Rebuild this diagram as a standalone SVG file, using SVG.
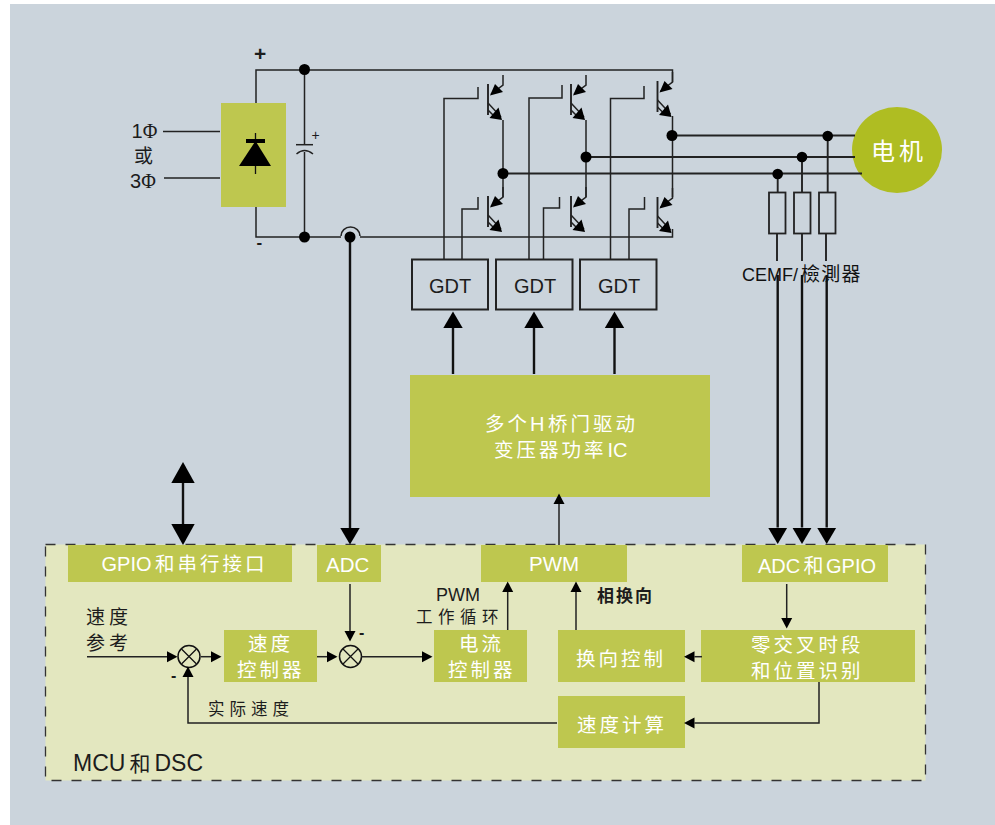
<svg xmlns="http://www.w3.org/2000/svg" width="995" height="825" viewBox="0 0 995 825">
<style>
text{font-family:"Liberation Sans","Noto Sans CJK SC",sans-serif}
.box{fill:#bec74f}
.w{fill:#fff;font-size:19.5px;letter-spacing:3px}
.l{fill:#fff;font-size:20.5px;letter-spacing:0}
.d{fill:#1c1c1c;font-size:17px;letter-spacing:4.5px}
.g{fill:#1c1c1c;font-size:20px}
.ln{fill:none;stroke:#222;stroke-width:1.5}
.ph{fill:none;stroke:#222;stroke-width:1.9}
.th{fill:none;stroke:#111;stroke-width:2.4}
.gdt{fill:none;stroke:#222;stroke-width:2}
.dot{fill:#000}
.sw{fill:none;stroke:#111;stroke-width:1.3}
</style>
<defs>
<marker id="s" markerUnits="userSpaceOnUse" markerWidth="11" markerHeight="12" refX="0" refY="6" orient="auto"><path d="M0,0.5L10.500,6L0,11.500Z" fill="#000"/></marker>
<marker id="b" markerUnits="userSpaceOnUse" markerWidth="18" markerHeight="22" refX="0" refY="11" orient="auto"><path d="M0,1.300L16.500,11L0,20.700Z" fill="#000"/></marker>
<marker id="x" markerUnits="userSpaceOnUse" markerWidth="22" markerHeight="26" refX="0" refY="13" orient="auto"><path d="M0,1.300L21,13L0,24.700Z" fill="#000"/></marker>
<g id="igbt">
<path d="M0,0V31" class="ph"/>
<path d="M15,-9V1L3,10M0,19L13,33M0,26L5,31" class="ln"/>
<path d="M2,11.500L7,0L15,8ZM14,36L1.500,34L10.500,23.500Z" fill="#000"/>
</g>
<g id="sum"><circle r="11" fill="none" stroke="#111" stroke-width="1.500"/><path d="M-7.500,-7.500L7.500,7.500M-7.500,7.500L7.500,-7.500" class="sw"/></g>
</defs>
<rect x="10" y="4" width="985" height="821" fill="#cbd4dc"/>
<rect id="mcu" x="45.500" y="544.500" width="880" height="236" fill="#e3e7bf" stroke="#333" stroke-width="1.300" stroke-dasharray="10 10"/>

<g id="rectifier">
<rect class="box" x="221" y="103" width="65" height="104"/>
<path d="M255.500,133V174" stroke="#111" stroke-width="1.300"/>
<rect x="246" y="139" width="19" height="4" fill="#000"/>
<path d="M255.500,141L271,166H239Z" fill="#000"/>
</g>
<g id="input-labels">
<text x="131.500" y="138" class="g">1<tspan style="font-family:'Liberation Serif',serif">Φ</tspan></text>
<text x="134" y="163" class="g" style="font-size:19px">或</text>
<text x="130" y="188" class="g">3<tspan style="font-family:'Liberation Serif',serif">Φ</tspan></text>
<text x="254" y="61" class="g" style="font-size:21px;font-weight:bold">+</text>
<text x="256.500" y="248" class="g" style="font-size:17px;font-weight:bold">-</text>
<text x="311.500" y="140" class="g" style="font-size:14px">+</text>
</g>

<g id="motor"><ellipse cx="897" cy="150" rx="45" ry="43" fill="#afbd22"/><text x="871" y="160" style="font-size:24px;letter-spacing:4px" fill="#fff">电机</text></g>
<g id="sensors" fill="none" stroke="#222" stroke-width="1.800">
<rect x="769" y="192.500" width="16.500" height="41"/><rect x="794" y="192.500" width="16.500" height="41"/><rect x="819" y="192.500" width="16.500" height="41"/>
</g>
<text id="cemf" x="742" y="281" style="font-size:18px;font-family:'Liberation Sans','Noto Sans CJK TC',sans-serif" fill="#111">CEMF/<tspan x="801" style="font-size:19px;letter-spacing:1.300px">檢測器</tspan></text>

<g id="gdt1"><rect class="gdt" x="412" y="259.500" width="76" height="50"/><text class="g" x="429" y="293">GDT</text></g>
<g id="gdt2"><rect class="gdt" x="496" y="259.500" width="76.500" height="50"/><text class="g" x="514" y="293">GDT</text></g>
<g id="gdt3"><rect class="gdt" x="580" y="259.500" width="76.500" height="50"/><text class="g" x="598" y="293">GDT</text></g>

<g id="driver-ic"><rect class="box" x="410" y="375" width="300" height="122"/>
<text class="w" x="485" y="431">多个<tspan x="530" style="letter-spacing:0;font-size:20px">H</tspan><tspan x="548">桥门驱动</tspan></text>
<text class="w" x="494" y="457">变压器功率<tspan x="607.500" style="letter-spacing:0;font-size:20px">IC</tspan></text></g>

<g id="gpio"><rect class="box" x="68" y="545" width="224" height="37"/><text class="w" x="101.500" y="571"><tspan style="letter-spacing:0;font-size:20px">GPIO</tspan><tspan x="155">和串行接口</tspan></text></g>
<g id="adc"><rect class="box" x="317" y="545" width="64" height="37"/><text class="l" x="326" y="572">ADC</text></g>
<g id="pwm"><rect class="box" x="481" y="545" width="146" height="37"/><text class="l" x="529" y="571">PWM</text></g>
<g id="adc-gpio"><rect class="box" x="742" y="545" width="146" height="37"/><text class="l" x="758" y="573" style="font-size:20px">ADC<tspan x="803.500">和</tspan><tspan x="826">GPIO</tspan></text></g>
<g id="speed-ctrl"><rect class="box" x="224" y="630" width="93" height="52"/><text class="w" x="248" y="651">速度</text><text class="w" x="237" y="677">控制器</text></g>
<g id="current-ctrl"><rect class="box" x="434" y="630" width="93" height="52"/><text class="w" x="459" y="651">电流</text><text class="w" x="448" y="677">控制器</text></g>
<g id="commutation"><rect class="box" x="558" y="630" width="127" height="52"/><text class="w" x="576" y="666">换向控制</text></g>
<g id="zero-cross"><rect class="box" x="701" y="630" width="214" height="52"/><text class="w" x="751" y="652">零交叉时段</text><text class="w" x="751" y="678">和位置识别</text></g>
<g id="speed-calc"><rect class="box" x="558" y="696" width="127" height="52"/><text class="w" x="577" y="732">速度计算</text></g>
<g id="sum1" transform="translate(189,656.500)"><use href="#sum"/></g>
<g id="sum2" transform="translate(350.500,656.500)"><use href="#sum"/></g>

<g id="connectors">
<path class="ln" d="M256,103V70H672.500V82"/>
<path class="ln" d="M256,207V237H341M360,237H672.500V229"/>
<path class="ln" d="M341,236A9.500,9 0 0 1 360,236"/>
<path class="ln" d="M304.500,70V144M304.500,152V237"/>
<path class="ln" d="M296,144.700H313"/>
<path class="ln" d="M296.500,154Q304.500,147 313,154"/>
<path class="ln" d="M163,131.500H220M164,178H220"/>
<path class="ln" d="M503,120V197M586,120V197M672.500,116V197"/>
<path class="ph" d="M503,173.500H862M586,157H855M672.500,135.500H855"/>
<path class="ln" d="M444,259V98.500H478V87M529,259V98H562V85M610.500,259V98.500H644V86"/>
<path class="ln" d="M462,259V209H478V197M543.500,259V208H559.500V197M629,259V209H644.500V197"/>
<path class="ph" d="M777.700,174V192M802,157V192M827.700,136V192M777,234V261M802,234V261M826,234V261"/>
<path class="th" d="M453,374V328" marker-end="url(#b)"/>
<path class="th" d="M534,374V328" marker-end="url(#b)"/>
<path class="th" d="M614.500,374V328" marker-end="url(#b)"/>
<path class="th" d="M777.700,275V527.500" marker-end="url(#b)"/>
<path class="th" d="M802,275V527.500" marker-end="url(#b)"/>
<path class="th" d="M826.700,275V527.500" marker-end="url(#b)"/>
<path class="th" d="M350,237V528" marker-end="url(#b)"/>
<path class="th" d="M183,504V483" marker-end="url(#x)"/>
<path class="th" d="M183,504V524" marker-end="url(#x)"/>
<path class="ln" d="M350,584V631" marker-end="url(#s)"/>
<path class="ln" d="M87,656.700H167" marker-end="url(#s)"/>
<path class="ln" d="M201,656.700H211" marker-end="url(#s)"/>
<path class="ln" d="M317,656.700H327" marker-end="url(#s)"/>
<path class="ln" d="M361,656.700H422" marker-end="url(#s)"/>
<path class="ln" d="M557,723H188V677" marker-end="url(#s)"/>
<path class="ln" d="M507.700,630V592" marker-end="url(#s)"/>
<path class="ln" d="M576,630V592" marker-end="url(#s)"/>
<path class="ln" d="M559,545V504" marker-end="url(#s)"/>
<path class="ln" d="M786.700,584V618" marker-end="url(#s)"/>
<path class="ln" d="M702,656.700H694.500" marker-end="url(#s)"/>
<path class="ln" d="M819,682V723H694.500" marker-end="url(#s)"/>
</g>

<g id="igbts">
<use href="#igbt" x="488" y="84"/><use href="#igbt" x="571" y="84"/><use href="#igbt" x="657.500" y="81"/>
<use href="#igbt" x="488" y="196"/><use href="#igbt" x="571" y="196"/><use href="#igbt" x="657.500" y="197"/>
</g>
<g id="dots">
<circle class="dot" cx="304.500" cy="69.500" r="5.500"/><circle class="dot" cx="304.500" cy="237" r="5.500"/><circle class="dot" cx="350" cy="237" r="5.500"/>
<circle class="dot" cx="503" cy="173.500" r="5.500"/><circle class="dot" cx="586" cy="157" r="5.500"/><circle class="dot" cx="672" cy="135.500" r="5.500"/>
<circle class="dot" cx="777.700" cy="174" r="5.300"/><circle class="dot" cx="802" cy="157" r="5.300"/><circle class="dot" cx="827.700" cy="136" r="5.300"/>
</g>

<g id="labels">
<text class="d" x="86" y="624" style="font-size:19px;letter-spacing:4px">速度</text>
<text class="d" x="86" y="650" style="font-size:19px;letter-spacing:4px">参考</text>
<text class="d" x="436" y="601" style="letter-spacing:0;font-size:18px">PWM</text>
<text class="d" x="416" y="623" style="font-size:16.500px;letter-spacing:5.500px">工作循环</text>
<text class="d" x="597" y="602" style="letter-spacing:2px;font-weight:bold;font-size:17px">相换向</text>
<text class="d" x="208" y="715" style="font-size:16.500px;letter-spacing:5px">实际速度</text>
<text class="g" x="73" y="771" style="font-size:23px">MCU<tspan x="129.500" style="font-size:21px">和</tspan><tspan x="154.500">DSC</tspan></text>
<text class="g" x="359" y="638" style="font-size:16px;font-weight:bold">-</text>
<text class="g" x="171" y="681" style="font-size:16px;font-weight:bold">-</text>
</g>
</svg>
